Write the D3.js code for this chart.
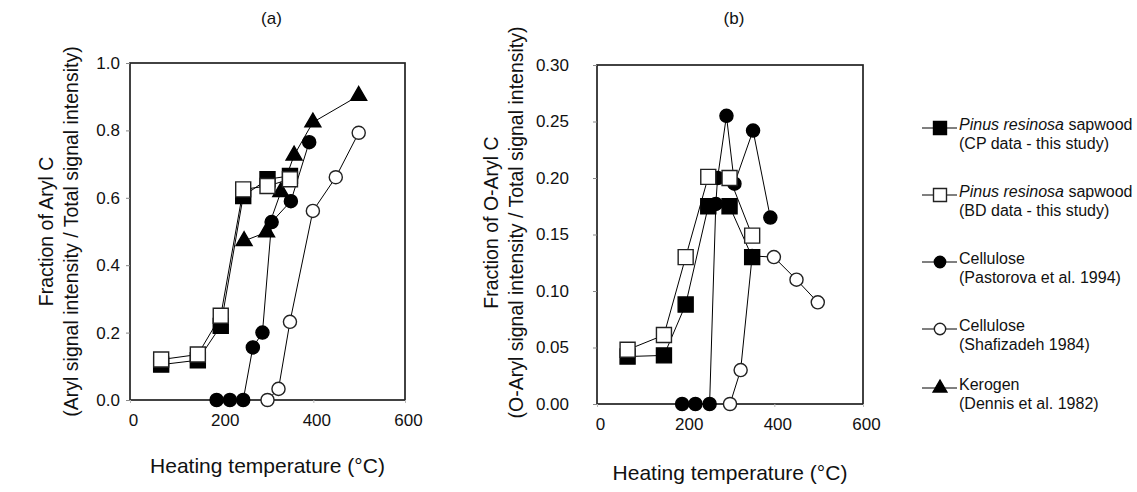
<!DOCTYPE html>
<html>
<head>
<meta charset="utf-8">
<script src="https://cdn.jsdelivr.net/npm/d3@7"></script>
<style>
  body { margin: 0; background: #fff; }
  svg text { font-family: Arial, "Liberation Sans", sans-serif; fill: #111; }
</style>
</head>
<body>
<svg id="chart" width="1137" height="492"></svg>
<script>
// ---------- data ----------
const xTicks = [0, 200, 400, 600];
const yTicksA = [0, 0.2, 0.4, 0.6, 0.8, 1.0];
const yTicksB = [0, 0.05, 0.10, 0.15, 0.20, 0.25, 0.30];

// Panel (a): fraction of aryl C
const tempSapA = [68, 148, 198, 247, 300, 349];
const cpA = [0.105, 0.118, 0.22, 0.605, 0.655, 0.665];
const bdA = [0.12, 0.135, 0.25, 0.625, 0.635, 0.655];
const pastTempA = [189, 218, 247, 268, 289, 309, 351, 391];
const pastA = [0, 0, 0, 0.156, 0.2, 0.528, 0.59, 0.765];
const shafTempA = [300, 324, 349, 399, 449, 499];
const shafA = [0, 0.033, 0.232, 0.561, 0.661, 0.793];
const kerTempA = [249, 298, 329, 358, 399, 499];
const kerA = [0.472, 0.498, 0.617, 0.726, 0.824, 0.903];

// Panel (b): fraction of O-aryl C
const tempSapB = [69, 151, 200, 251, 299, 350];
const cpB = [0.042, 0.043, 0.088, 0.175, 0.175, 0.13];
const bdB = [0.048, 0.061, 0.13, 0.201, 0.2, 0.149];
const pastTempB = [192, 222, 254, 268, 272, 292, 310, 352, 391];
const pastB = [0, 0, 0, 0.177, 0.2, 0.255, 0.195, 0.242, 0.165];
const shafTempB = [300, 324, 350, 399, 450, 498];
const shafB = [0, 0.03, 0.131, 0.13, 0.11, 0.09];

const legendLines1 = ["Pinus resinosa|sapwood", "Pinus resinosa|sapwood", "Cellulose", "Cellulose", "Kerogen"];
const legendLines2 = ["(CP data - this study)", "(BD data - this study)", "(Pastorova et al. 1994)", "(Shafizadeh 1984)", "(Dennis et al. 1982)"];

// ---------- styles ----------
const styles = {
  cp:   { type: d3.symbolSquare,   size: 225, fill: "#000", stroke: "#000" },
  bd:   { type: d3.symbolSquare,   size: 225, fill: "#fff", stroke: "#222" },
  past: { type: d3.symbolCircle,   size: 135, fill: "#000", stroke: "#000" },
  shaf: { type: d3.symbolCircle,   size: 135, fill: "#fff", stroke: "#222" },
  ker:  { type: d3.symbolTriangle, size: 110, fill: "#000", stroke: "#000" }
};

const svg = d3.select("#chart");

function drawPanel(cfg) {
  const x = d3.scaleLinear().domain([0, 600]).range([cfg.left, cfg.right]);
  const y = d3.scaleLinear().domain([0, cfg.ymax]).range([cfg.bottom, cfg.top]);
  const g = svg.append("g");

  // frame
  g.append("rect")
    .attr("x", cfg.left).attr("y", cfg.top)
    .attr("width", cfg.right - cfg.left).attr("height", cfg.bottom - cfg.top)
    .attr("fill", "none").attr("stroke", "#222").attr("stroke-width", 1.7);

  // y axis
  const yAxis = d3.axisLeft(y).tickValues(cfg.yTicks).tickFormat(d3.format(cfg.yFmt)).tickSize(4).tickPadding(cfg.yPad);
  const ya = g.append("g").attr("transform", `translate(${cfg.left},0)`).call(yAxis);
  ya.select(".domain").remove();
  ya.selectAll("line").attr("stroke", "#888");
  ya.selectAll("text").style("font-size", "17px").attr("fill", "#111");

  // x axis
  const xAxis = d3.axisBottom(x).tickValues(xTicks).tickSize(3).tickPadding(11);
  const xa = g.append("g").attr("transform", `translate(0,${cfg.bottom})`).call(xAxis);
  xa.select(".domain").remove();
  xa.selectAll("line").attr("stroke", "#bbb");
  xa.selectAll("text").style("font-size", "17px").attr("fill", "#111").attr("dx", 3);

  // panel title
  g.append("text").attr("x", (cfg.left + cfg.right) / 2 + 4).attr("y", 24)
    .attr("text-anchor", "middle").style("font-size", "17px").text(cfg.title);

  // x title
  g.append("text").attr("x", (cfg.left + cfg.right) / 2).attr("y", cfg.xTitleY)
    .attr("text-anchor", "middle").style("font-size", "21px").text("Heating temperature (°C)");

  // y title (two lines)
  const yt = g.append("text")
    .attr("transform", `translate(${cfg.yTitleX},${(cfg.top + cfg.bottom) / 2 + cfg.yTitleDy}) rotate(-90)`)
    .attr("text-anchor", "middle").style("font-size", "19.5px");
  yt.append("tspan").attr("x", 0).attr("y", 0).text(cfg.yTitle1);
  yt.append("tspan").attr("x", 0).attr("y", 25).text(cfg.yTitle2);

  const line = d3.line().x(d => x(d[0])).y(d => y(d[1]));

  cfg.series.forEach(s => {
    const pts = s.t.map((t, i) => [t, s.v[i]]);
    g.append("path").datum(pts).attr("d", line)
      .attr("fill", "none").attr("stroke", "#000").attr("stroke-width", 1);
    const st = styles[s.key];
    g.selectAll(null).data(pts).enter().append("path")
      .attr("d", d3.symbol().type(st.type).size(st.size))
      .attr("transform", d => `translate(${x(d[0])},${y(d[1])})`)
      .attr("fill", st.fill).attr("stroke", st.stroke).attr("stroke-width", 1.4);
  });
}

drawPanel({
  left: 130, right: 405, top: 63, bottom: 400, ymax: 1.0,
  yTicks: yTicksA, yFmt: ".1f", yPad: 6, title: "(a)",
  xTitleY: 473, yTitleX: 53, yTitleDy: 0,
  yTitle1: "Fraction of Aryl C",
  yTitle2: "(Aryl signal intensity / Total signal intensity)",
  series: [
    { key: "past", t: pastTempA, v: pastA },
    { key: "shaf", t: shafTempA, v: shafA },
    { key: "ker",  t: kerTempA,  v: kerA },
    { key: "cp",   t: tempSapA,  v: cpA },
    { key: "bd",   t: tempSapA,  v: bdA }
  ]
});

drawPanel({
  left: 597, right: 863, top: 65, bottom: 404, ymax: 0.30,
  yTicks: yTicksB, yFmt: ".2f", yPad: 24, title: "(b)",
  xTitleY: 480, yTitleX: 498, yTitleDy: -12,
  yTitle1: "Fraction of O-Aryl C",
  yTitle2: "(O-Aryl signal intensity / Total signal intensity)",
  series: [
    { key: "past", t: pastTempB, v: pastB },
    { key: "shaf", t: shafTempB, v: shafB },
    { key: "cp",   t: tempSapB,  v: cpB },
    { key: "bd",   t: tempSapB,  v: bdB }
  ]
});

// ---------- legend ----------
const legendKeys = ["cp", "bd", "past", "shaf", "ker"];
const legY = [130, 197, 264, 331, 390];
const lg = svg.append("g");
legendKeys.forEach((k, i) => {
  const st = styles[k];
  const cy = legY[i] - 2;
  lg.append("line").attr("x1", 922).attr("x2", 957).attr("y1", cy).attr("y2", cy)
    .attr("stroke", "#000").attr("stroke-width", 1);
  lg.append("path").attr("d", d3.symbol().type(st.type).size(st.size * 0.75))
    .attr("transform", `translate(940,${cy})`)
    .attr("fill", st.fill).attr("stroke", st.stroke).attr("stroke-width", 1.4);
  const t1 = lg.append("text").attr("x", 959).attr("y", legY[i]).style("font-size", "16px");
  const parts = legendLines1[i].split("|");
  if (parts.length > 1) {
    t1.append("tspan").style("font-style", "italic").text(parts[0]);
    t1.append("tspan").text(" " + parts[1]);
  } else {
    t1.text(parts[0]);
  }
  lg.append("text").attr("x", 959).attr("y", legY[i] + 19).style("font-size", "16px").text(legendLines2[i]);
});
</script>
</body>
</html>
